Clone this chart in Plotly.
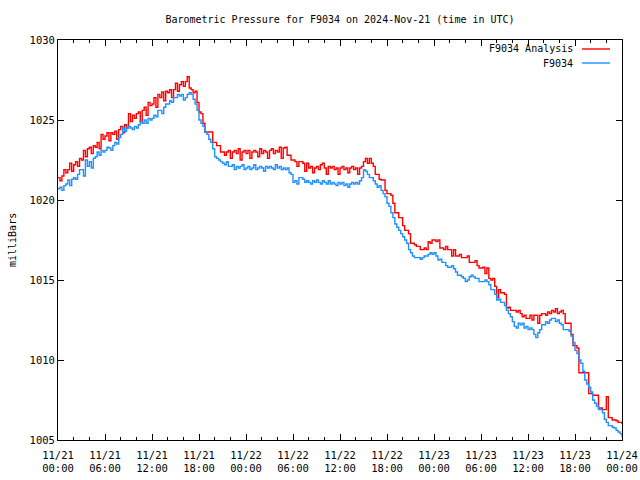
import pandas as pd
import plotly.graph_objects as go

# 15-minute samples from 2024-11-21 00:00 to 2024-11-24 00:00 (UTC)
start_time = "2024-11-21 00:00"
n_points = 289

analysis_mb = [
    1021.4, 1021.2, 1021.5, 1021.9,   1021.7, 1021.9, 1022.3, 1021.8,
    1022.2, 1022.4, 1022.1, 1022.6,   1022.5, 1023.1, 1022.7, 1023.2,
    1023.3, 1022.9, 1023.4, 1023.3,   1023.6, 1023.2, 1024.1, 1023.8,
    1024.0, 1024.2, 1023.7, 1024.2,   1024.1, 1024.3, 1023.8, 1024.4,
    1024.6, 1024.2, 1024.7, 1024.5,   1025.4, 1024.9, 1025.3, 1025.1,
    1025.4, 1025.5, 1024.9, 1025.6,   1025.8, 1025.3, 1026.1, 1025.9,
    1026.0, 1026.4, 1025.8, 1026.6,   1026.4, 1026.75, 1026.2, 1026.8,
    1026.7, 1026.9, 1026.4, 1026.9,   1027.3, 1026.8, 1027.2, 1027.4,
    1027.1, 1027.4, 1027.7, 1027.0,   1026.9, 1026.7, 1026.8, 1026.1,
    1025.5, 1025.4, 1024.8, 1024.25,  1024.25, 1024.25, 1024.25, 1023.6,
    1023.6, 1023.4, 1023.4, 1023.0,   1023.0, 1022.8, 1023.0, 1023.1,
    1022.6, 1023.0, 1023.1, 1022.9,   1023.2, 1022.5, 1023.0, 1023.1,
    1022.9, 1023.1, 1022.6, 1023.0,   1023.1, 1023.0, 1022.7, 1023.2,
    1022.9, 1023.1, 1023.0, 1022.6,   1023.1, 1023.2, 1022.9, 1023.1,
    1023.0, 1023.3, 1022.6, 1023.25,  1023.3, 1022.8, 1022.8, 1022.5,
    1022.5, 1022.4, 1022.1, 1022.4,   1022.4, 1022.3, 1021.8, 1022.3,
    1022.0, 1022.1, 1021.7, 1022.0,   1022.1, 1021.9, 1022.2, 1022.3,
    1022.0, 1021.6, 1022.1, 1022.0,   1022.1, 1021.9, 1022.0, 1021.6,
    1022.0, 1022.1, 1021.9, 1022.0,   1021.7, 1022.0, 1022.1, 1021.9,
    1022.0, 1021.6, 1022.0, 1022.1,   1022.4, 1022.6, 1022.3, 1022.6,
    1022.3, 1022.1, 1021.6, 1021.6,   1021.3, 1021.25, 1021.25, 1020.6,
    1020.4, 1020.4, 1020.3, 1019.8,   1019.2, 1019.2, 1018.9, 1018.9,
    1018.4, 1018.1, 1018.1, 1017.9,   1017.3, 1017.3, 1017.2, 1017.1,
    1017.1, 1016.9, 1016.9, 1017.0,   1016.9, 1017.4, 1017.3, 1017.5,
    1017.5, 1017.4, 1017.5, 1017.0,   1017.0, 1016.9, 1017.1, 1016.9,
    1016.9, 1016.5, 1016.9, 1016.5,   1016.5, 1016.6, 1016.4, 1016.4,
    1016.4, 1016.5, 1016.1, 1016.1,   1016.1, 1016.2, 1015.9, 1015.75,
    1015.75, 1015.8, 1015.4, 1015.75, 1015.1, 1015.0, 1015.1, 1014.6,
    1013.9, 1014.4, 1014.2, 1014.2,   1014.1, 1013.25, 1013.3, 1013.1,
    1013.1, 1013.1, 1013.0, 1013.1,   1012.9, 1012.7, 1012.8, 1012.6,
    1012.6, 1012.8, 1012.5, 1012.8,   1012.8, 1012.3, 1012.8, 1012.9,
    1012.9, 1012.8, 1013.0, 1012.9,   1013.1, 1013.0, 1013.2, 1012.9,
    1013.0, 1013.1, 1012.9, 1012.3,   1012.3, 1012.3, 1011.6, 1010.9,
    1010.9, 1010.75, 1009.2, 1009.2,  1009.2, 1009.2, 1009.2, 1007.9,
    1007.9, 1007.8, 1007.8, 1007.8,   1007.0, 1007.0, 1006.9, 1006.9,
    1007.7, 1006.4, 1006.4, 1006.25,  1006.25, 1006.2, 1006.1, 1006.1,
    1006.0,
]

station_mb = [
    1020.7, 1020.8, 1020.6, 1020.9,   1021.0, 1021.25, 1020.9, 1021.3,
    1021.4, 1021.3, 1021.6, 1021.9,   1021.9, 1021.5, 1022.5, 1022.1,
    1022.4, 1022.0, 1022.6, 1022.7,   1023.0, 1022.8, 1023.1, 1023.0,
    1023.1, 1023.3, 1023.25, 1023.1,  1023.4, 1023.6, 1023.5, 1023.9,
    1024.1, 1024.5, 1024.3, 1024.5,   1024.6, 1024.5, 1024.4, 1024.6,
    1024.5, 1024.7, 1024.9, 1024.8,   1025.0, 1024.8, 1025.1, 1025.0,
    1025.1, 1025.3, 1025.2, 1025.6,   1025.6, 1025.4, 1025.8, 1026.0,
    1026.0, 1026.2, 1026.1, 1026.4,   1026.4, 1026.6, 1026.5, 1026.6,
    1026.25, 1026.4, 1026.6, 1026.7,  1026.6, 1026.3, 1026.0, 1025.6,
    1025.0, 1024.8, 1024.6, 1024.25,  1024.1, 1023.8, 1023.6, 1023.2,
    1022.7, 1022.6, 1022.5, 1022.4,   1022.3, 1022.2, 1022.4, 1022.1,
    1022.1, 1022.2, 1021.9, 1022.1,   1022.0, 1022.1, 1022.2, 1021.9,
    1022.0, 1022.1, 1021.9, 1022.0,   1022.2, 1021.9, 1022.0, 1022.1,
    1022.0, 1021.8, 1022.1, 1022.0,   1022.1, 1022.0, 1021.9, 1022.2,
    1022.0, 1022.1, 1021.9, 1022.0,   1021.9, 1022.0, 1021.7, 1021.6,
    1021.1, 1021.2, 1021.0, 1021.4,   1021.4, 1021.3, 1021.1, 1021.2,
    1021.1, 1021.0, 1021.2, 1021.1,   1021.25, 1021.1, 1021.0, 1021.2,
    1021.1, 1021.0, 1021.2, 1021.0,   1021.1, 1021.0, 1020.9, 1021.1,
    1021.0, 1021.1, 1020.9, 1021.0,   1020.8, 1021.0, 1021.1, 1021.0,
    1021.1, 1021.0, 1021.2, 1021.4,   1021.9, 1021.8, 1021.6, 1021.4,
    1021.4, 1021.2, 1021.0, 1020.8,   1020.9, 1020.6, 1020.4, 1020.2,
    1019.8, 1019.6, 1019.2, 1018.9,   1018.5, 1018.3, 1018.1, 1017.9,
    1017.7, 1017.5, 1017.3, 1016.9,   1016.7, 1016.5, 1016.4, 1016.4,
    1016.4, 1016.3, 1016.4, 1016.5,   1016.5, 1016.6, 1016.7, 1016.6,
    1016.7, 1016.5, 1016.25, 1016.3,  1016.1, 1016.1, 1015.9, 1015.8,
    1015.8, 1015.9, 1015.7, 1015.5,   1015.3, 1015.3, 1015.2, 1015.1,
    1014.9, 1015.0, 1015.2, 1015.3,   1015.2, 1015.1, 1015.1, 1014.9,
    1014.9, 1014.9, 1015.0, 1014.9,   1014.7, 1014.4, 1014.4, 1014.1,
    1013.75, 1013.8, 1013.6, 1013.6,  1013.4, 1013.1, 1012.9, 1012.7,
    1012.4, 1012.1, 1012.0, 1012.3,   1012.2, 1012.3, 1012.0, 1012.1,
    1011.9, 1012.0, 1011.9, 1011.6,   1011.4, 1011.7, 1011.9, 1012.2,
    1012.2, 1012.4, 1012.3, 1012.5,   1012.6, 1012.6, 1012.4, 1012.5,
    1012.3, 1012.2, 1011.9, 1011.9,   1011.9, 1011.8, 1011.5, 1011.1,
    1010.6, 1010.4, 1010.0, 1009.8,   1009.3, 1008.75, 1008.5, 1008.3,
    1008.0, 1007.5, 1007.3, 1007.1,   1006.9, 1006.9, 1006.7, 1006.3,
    1006.1, 1005.9, 1005.9, 1005.8,   1005.75, 1005.6, 1005.5, 1005.4,
    1005.2,
]

series_names = ["F9034 Analysis", "F9034"]
series_colors = ["#ff0000", "#1e90ff"]

x_tick_values = [
    "2024-11-21 00:00", "2024-11-21 06:00", "2024-11-21 12:00", "2024-11-21 18:00",
    "2024-11-22 00:00", "2024-11-22 06:00", "2024-11-22 12:00", "2024-11-22 18:00",
    "2024-11-23 00:00", "2024-11-23 06:00", "2024-11-23 12:00", "2024-11-23 18:00",
    "2024-11-24 00:00",
]
x_tick_labels = [
    "11/21<br>00:00", "11/21<br>06:00", "11/21<br>12:00", "11/21<br>18:00",
    "11/22<br>00:00", "11/22<br>06:00", "11/22<br>12:00", "11/22<br>18:00",
    "11/23<br>00:00", "11/23<br>06:00", "11/23<br>12:00", "11/23<br>18:00",
    "11/24<br>00:00",
]
y_tick_values = [1005, 1010, 1015, 1020, 1025, 1030]

times = pd.date_range(start_time, periods=n_points, freq="15min")

FONT = "DejaVu Sans Mono"

fig = go.Figure()
for name, vals, col in zip(series_names, [analysis_mb, station_mb], series_colors):
    fig.add_trace(go.Scatter(
        x=times, y=vals, mode="lines", name=name,
        line=dict(color=col, width=1.4, shape="hv"),
        showlegend=False,
    ))

fig.update_layout(
    width=640, height=480,
    margin=dict(l=58, r=18, t=40, b=40),
    paper_bgcolor="white", plot_bgcolor="white",
    font=dict(family=FONT, size=10, color="black"),
    title=dict(text="Barometric Pressure for F9034 on 2024-Nov-21 (time in UTC)",
               x=340 / 640, xanchor="center", y=1 - 19 / 480, yanchor="middle",
               font=dict(family=FONT, size=10, color="black")),
)
fig.update_xaxes(
    range=[x_tick_values[0], x_tick_values[-1]], automargin=False,
    tickmode="array", tickvals=x_tick_values, ticktext=x_tick_labels,
    ticks="inside", ticklen=6, tickcolor="black", tickwidth=1,
    ticklabelstandoff=5,
    minor=dict(dtick=2 * 3600000, ticks="inside", ticklen=3, tickcolor="black", showgrid=False),
    showline=True, linecolor="black", linewidth=1, mirror="ticks",
    showgrid=False, zeroline=False,
    tickfont=dict(family=FONT, size=10.5, color="black"),
)
fig.update_yaxes(
    range=[1005, 1030], tickmode="array", tickvals=y_tick_values, automargin=False,
    ticks="inside", ticklen=6, tickcolor="black", tickwidth=1,
    showline=True, linecolor="black", linewidth=1, mirror="ticks",
    showgrid=False, zeroline=False,
    tickfont=dict(family=FONT, size=10.5, color="black"),
)

# y-axis label
fig.add_annotation(text="milliBars", xref="paper", yref="paper",
                   x=(12 - 58) / 564, y=0.5, textangle=-90, showarrow=False,
                   xanchor="center", yanchor="middle",
                   font=dict(family=FONT, size=10, color="black"))

# gnuplot-style key: text, then line sample
key_rows_y = [49, 63]
for name, col, py in zip(series_names, series_colors, key_rows_y):
    yp = (440 - py) / 400
    fig.add_annotation(text=name, xref="paper", yref="paper",
                       x=(575 - 58) / 564, y=yp, xanchor="right", yanchor="middle",
                       showarrow=False, font=dict(family=FONT, size=10, color="black"))
    fig.add_shape(type="line", xref="paper", yref="paper",
                  x0=(582 - 58) / 564, x1=(610 - 58) / 564, y0=yp, y1=yp,
                  line=dict(color=col, width=1.4))

fig.write_html("out.html", config={"displayModeBar": False},
               post_script="document.body.style.margin='0';document.body.style.overflow='hidden';")
